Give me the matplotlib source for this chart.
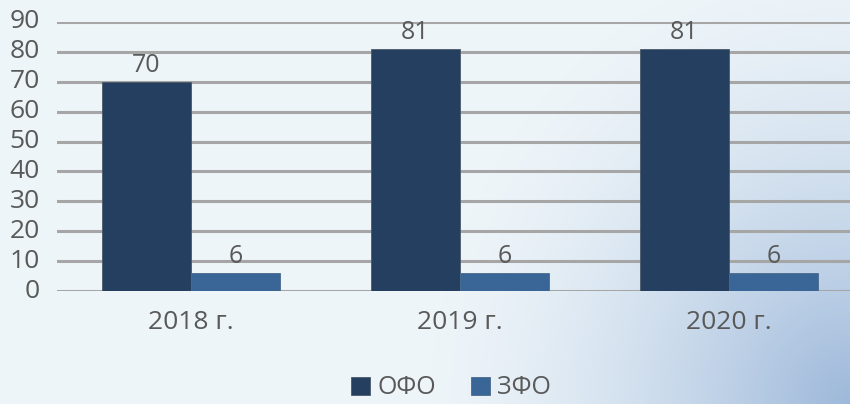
import numpy as np
import matplotlib.pyplot as plt
from matplotlib.colors import LinearSegmentedColormap

# Data
years = ['2018 г.', '2019 г.', '2020 г.']
ofo = [70, 81, 81]
zfo = [6, 6, 6]
series_names = ['ОФО', 'ЗФО']

plt.rcParams['font.family'] = ['Open Sans', 'DejaVu Sans']
text_color = '#595959'
dark_blue = '#243F60'
mid_blue = '#3A6597'

fig = plt.figure(figsize=(8.5, 4.04), dpi=100)

# background gradient (light top-left, bluish toward bottom-right)
bg = fig.add_axes([0, 0, 1, 1], zorder=-10)
h, w = 404, 850
yy, xx = np.mgrid[0:h, 0:w]
d = np.sqrt(((xx - w) / 430.0) ** 2 + ((yy - h) / 460.0) ** 2)
t = np.clip(1 - d, 0, 1) ** 1.5
cmap = LinearSegmentedColormap.from_list('bg', ['#EEF5F9', '#9DB8DA'])
bg.imshow(t, cmap=cmap, vmin=0, vmax=1, aspect='auto', extent=[0, 1, 0, 1])
bg.axis('off')

ax = fig.add_axes([56.5 / 850, 113 / 404, 807 / 850, 269 / 404])
ax.patch.set_alpha(0)

x = np.arange(len(years))
bw = 89 / 269
b1 = ax.bar(x - bw / 2, ofo, bw, color=dark_blue, edgecolor='#4A5A6A', linewidth=0.6,
            label=series_names[0], zorder=3)
b2 = ax.bar(x + bw / 2, zfo, bw, color=mid_blue, edgecolor='#4A6A8A', linewidth=0.6,
            label=series_names[1], zorder=3)

for bars, vals in ((b1, ofo), (b2, zfo)):
    for rect, v in zip(bars, vals):
        ax.annotate(str(v), (rect.get_x() + rect.get_width() / 2, v),
                    xytext=(0, 3), textcoords='offset points',
                    ha='center', va='bottom', fontsize=18, color=text_color)

ax.set_xlim(-0.5, len(years) - 0.5)
ax.set_ylim(0, 90)
ax.set_yticks(range(0, 91, 10))
ax.set_xticks(x)
ax.set_xticklabels(years)
ax.tick_params(axis='y', length=0, labelsize=19, labelcolor=text_color, pad=12)
ax.tick_params(axis='x', length=0, labelsize=19, labelcolor=text_color, pad=14)
for lab in ax.get_yticklabels():
    lab.set_verticalalignment('center')
ax.grid(axis='y', color='#A6A6A6', linewidth=2.2, zorder=0)
for s in ax.spines.values():
    s.set_visible(False)

fig.legend(loc='center', bbox_to_anchor=(451 / 850, 1 - 388 / 404), ncol=2,
           frameon=False, fontsize=18, labelcolor=text_color, handlelength=0.75,
           handleheight=0.75, handletextpad=0.3, columnspacing=1.4)

fig.savefig('out.png', dpi=100)
